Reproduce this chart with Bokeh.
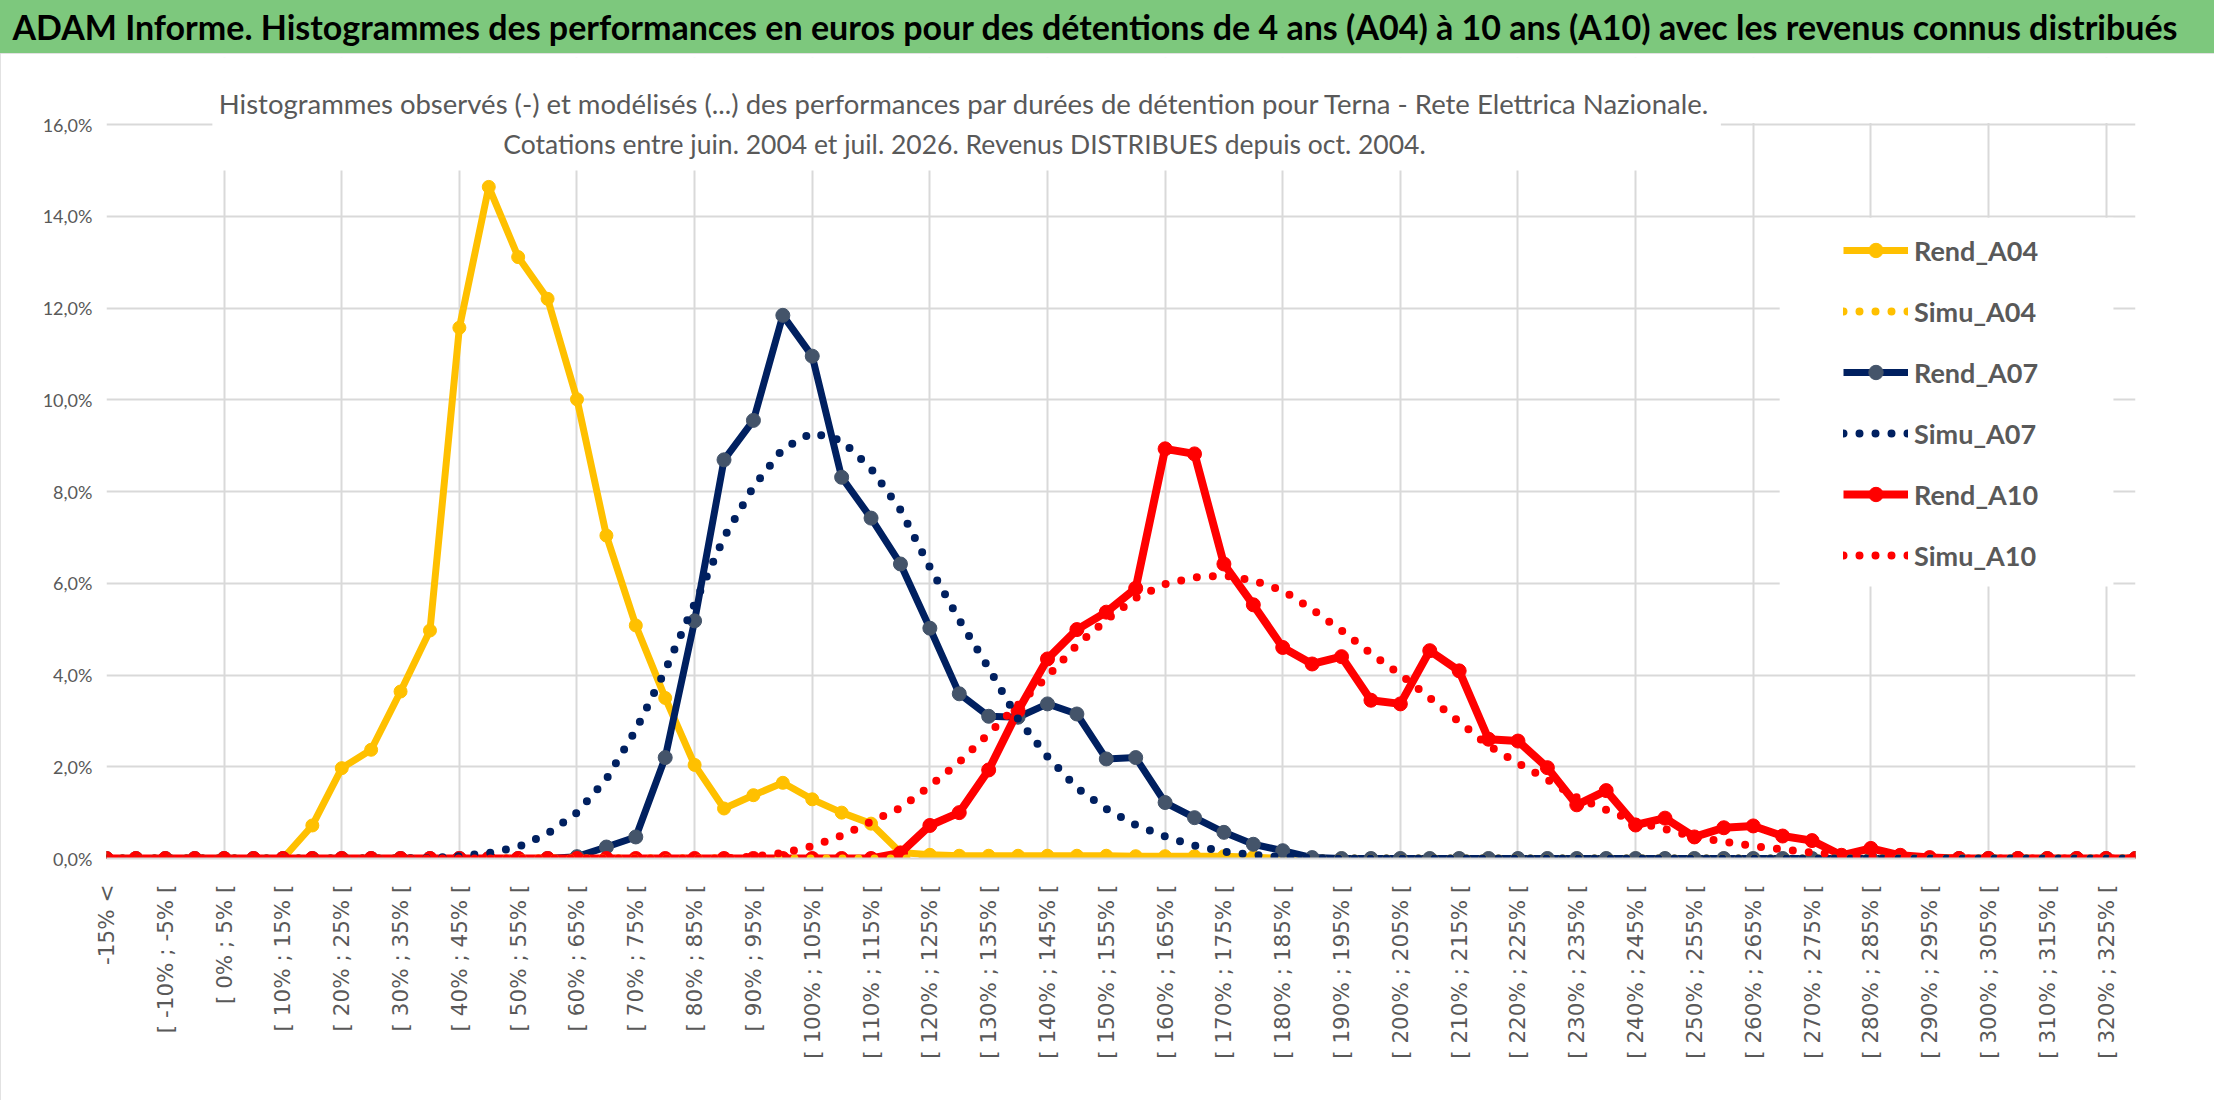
import math
from bokeh.plotting import figure
from bokeh.layouts import column
from bokeh.models import Range1d, FixedTicker, Label, BoxAnnotation, Legend, LegendItem, Div
from bokeh.embed import file_html
from bokeh.resources import INLINE

# ---------------- data ----------------
categories = ["-15% <"] + [f"[ {lo}% ; {lo + 5}% [" for lo in range(-15, 330, 5)]

rend_a04 = [0, 0, 0, 0, 0, 0, 0, 0.72, 1.97, 2.37,
            3.64, 4.97, 11.57, 14.64, 13.11, 12.2, 10.01, 7.04, 5.08, 3.5,
            2.04, 1.09, 1.38, 1.65, 1.29, 1.0, 0.76, 0.13, 0.08, 0.06,
            0.06, 0.06, 0.06, 0.06, 0.06, 0.05, 0.05, 0.05, 0.05, 0.03,
            0, 0, 0, 0, 0, 0, 0, 0, 0, 0,
            0, 0, 0, 0, 0, 0, 0, 0, 0, 0,
            0, 0, 0, 0, 0, 0, 0, 0, 0, 0]

simu_a04 = [0] * 70

rend_a07 = [0, 0, 0, 0, 0, 0, 0, 0, 0, 0,
            0, 0, 0, 0, 0, 0, 0.04, 0.25, 0.47, 2.2,
            5.18, 8.69, 9.55, 11.84, 10.95, 8.31, 7.42, 6.42, 5.02, 3.59,
            3.1, 3.08, 3.37, 3.15, 2.17, 2.2, 1.22, 0.89, 0.57, 0.31,
            0.17, 0.02, 0, 0, 0, 0, 0, 0, 0, 0,
            0, 0, 0, 0, 0, 0, 0, 0, 0, 0,
            0, 0, 0, 0, 0, 0, 0, 0, 0, 0]

simu_a07 = [0, 0, 0, 0, 0, 0, 0, 0, 0, 0,
            0, 0.01, 0.05, 0.12, 0.25, 0.54, 1.0, 1.73, 2.8, 4.1,
            5.55, 7.0, 8.1, 8.93, 9.28, 9.11, 8.5, 7.6, 6.35, 5.2,
            4.15, 3.04, 2.22, 1.54, 1.08, 0.73, 0.48, 0.28, 0.15, 0.08,
            0.03, 0.01, 0, 0, 0, 0, 0, 0, 0, 0,
            0, 0, 0, 0, 0, 0, 0, 0, 0, 0,
            0, 0, 0, 0, 0, 0, 0, 0, 0, 0]

rend_a10 = [0, 0, 0, 0, 0, 0, 0, 0, 0, 0,
            0, 0, 0, 0, 0, 0, 0, 0, 0, 0,
            0, 0, 0, 0, 0, 0, 0, 0.12, 0.72, 1.0,
            1.93, 3.22, 4.35, 4.99, 5.37, 5.89, 8.93, 8.82, 6.42, 5.53,
            4.6, 4.24, 4.4, 3.45, 3.37, 4.53, 4.09, 2.6, 2.56, 1.98,
            1.17, 1.48, 0.73, 0.88, 0.47, 0.67, 0.71, 0.49, 0.39, 0.07,
            0.22, 0.07, 0.02, 0, 0, 0, 0, 0, 0, 0]

simu_a10 = [0, 0, 0, 0, 0, 0, 0, 0, 0, 0,
            0, 0, 0, 0, 0, 0, 0, 0, 0, 0,
            0, 0, 0.04, 0.12, 0.27, 0.5, 0.8, 1.1, 1.58, 2.1,
            2.72, 3.35, 3.97, 4.65, 5.2, 5.68, 5.98, 6.13, 6.17, 6.06,
            5.84, 5.43, 4.97, 4.47, 4.01, 3.5, 2.98, 2.46, 2.08, 1.72,
            1.33, 1.06, 0.8, 0.64, 0.47, 0.37, 0.27, 0.2, 0.13, 0.08,
            0.04, 0.02, 0, 0, 0, 0, 0, 0, 0, 0]

y_ticks = [0, 2, 4, 6, 8, 10, 12, 14, 16]
y_tick_labels = ["0,0%", "2,0%", "4,0%", "6,0%", "8,0%", "10,0%", "12,0%", "14,0%", "16,0%"]

title_text = ("ADAM Informe. Histogrammes des performances en euros pour des détentions "
              "de 4 ans (A04) à 10 ans (A10) avec les revenus connus distribués")
subtitle_1 = ("Histogrammes observés (-) et modélisés (...) des performances par durées "
              "de détention pour Terna - Rete Elettrica Nazionale.")
subtitle_2 = "Cotations entre juin. 2004 et juil. 2026. Revenus DISTRIBUES depuis oct. 2004."

x = list(range(len(categories)))

GRID = "#D9D9D9"
TXT = "#595959"
YEL, NAVY, NAVY_M, RED = "#FFC000", "#002060", "#44546A", "#FF0000"
W = 2214

# ---------------- title bar ----------------
top = Div(text=title_text, width=W, height=53, margin=0,
          styles={"background-color": "#7DC87D", "font-family": "Lato",
                  "font-weight": "bold", "font-size": "34px", "color": "black",
                  "text-align": "center", "line-height": "53px", "white-space": "nowrap",
                  "text-indent": "-24px", "overflow": "hidden"})

# ---------------- main chart ----------------
YMAX = 16 * 801 / 734
p = figure(width=W, height=1047, x_range=Range1d(0, 69), y_range=Range1d(0, YMAX),
           output_backend="svg", toolbar_location=None, margin=0,
           min_border_left=106, min_border_right=79, min_border_top=4, min_border_bottom=242,
           styles={"outline": "2px solid #D9D9D9", "outline-offset": "-2px"})
p.outline_line_color = None
p.background_fill_color = "white"
p.border_fill_color = "white"

xa = p.xaxis[0]
xa.ticker = FixedTicker(ticks=list(range(0, 70, 2)))
xa.major_label_overrides = {i: categories[i] for i in range(0, 70, 2)}
xa.major_label_orientation = math.pi / 2
xa.major_label_text_font = "DejaVu Sans"
xa.major_label_text_font_size = "21.5px"
xa.major_label_text_color = TXT
xa.major_label_standoff = 26
xa.major_tick_out = 0
xa.major_tick_in = 0
xa.major_tick_line_color = None
xa.minor_tick_line_color = None
xa.axis_line_color = GRID
xa.axis_line_width = 2

ya = p.yaxis[0]
ya.ticker = FixedTicker(ticks=y_ticks)
ya.major_label_overrides = {t: l for t, l in zip(y_ticks, y_tick_labels)}
ya.major_label_text_font = "Lato"
ya.major_label_text_font_size = "18px"
ya.major_label_text_color = TXT
ya.major_label_standoff = 14
ya.major_tick_out = 0
ya.major_tick_in = 0
ya.major_tick_line_color = None
ya.minor_tick_line_color = None
ya.axis_line_color = None

p.xgrid.ticker = FixedTicker(ticks=list(range(0, 70, 4)))
p.ygrid.ticker = FixedTicker(ticks=y_ticks)
for g in (p.xgrid[0], p.ygrid[0]):
    g.grid_line_color = GRID
    g.grid_line_width = 2


def rend(vals, color, mcolor, lw, ms):
    l = p.line(x, vals, line_color=color, line_width=lw, line_join="round")
    s = p.scatter(x, vals, size=ms, fill_color=mcolor, line_color=mcolor)
    return [l, s]


def simu(vals, color):
    return [p.line(x, vals, line_color=color, line_width=8, line_dash="0 16",
                   line_cap="round")]


r04 = rend(rend_a04, YEL, YEL, 7, 13)
r07 = rend(rend_a07, NAVY, NAVY_M, 7, 14)
r10 = rend(rend_a10, RED, RED, 8, 14)
s04 = simu(simu_a04, YEL)
s07 = simu(simu_a07, NAVY)
s10 = simu(simu_a10, RED)

# white area above the plot area, subtitle box and legend box
p.add_layout(BoxAnnotation(left=-1, right=70, bottom=16.03, top=YMAX + 1,
                           fill_color="white", fill_alpha=1, line_color=None))
p.add_layout(BoxAnnotation(left=3.6, right=54.9, bottom=15.0, top=16.5,
                           fill_color="white", fill_alpha=1, line_color=None))
p.add_layout(BoxAnnotation(left=56.9, right=68.25, bottom=5.93, top=13.97,
                           fill_color="white", fill_alpha=1, line_color=None))

legend = Legend(items=[LegendItem(label="Rend_A04", renderers=r04),
                       LegendItem(label="Simu_A04", renderers=s04),
                       LegendItem(label="Rend_A07", renderers=r07),
                       LegendItem(label="Simu_A07", renderers=s07),
                       LegendItem(label="Rend_A10", renderers=r10),
                       LegendItem(label="Simu_A10", renderers=s10)],
                location=(1737, 285), margin=0, padding=12, spacing=25,
                glyph_width=65, glyph_height=36, label_height=36, label_standoff=6,
                label_text_font="Lato", label_text_font_style="bold",
                label_text_font_size="27px", label_text_color=TXT,
                border_line_color=None, background_fill_color="white",
                background_fill_alpha=1)
p.add_layout(legend)

p.add_layout(Label(x=858, y=755, x_units="screen", y_units="screen", text=subtitle_1,
                   text_align="center", text_baseline="middle", text_font="Lato",
                   text_font_size="27.5px", text_color=TXT))
p.add_layout(Label(x=858, y=715, x_units="screen", y_units="screen", text=subtitle_2,
                   text_align="center", text_baseline="middle", text_font="Lato",
                   text_font_size="26.5px", text_color=TXT))

layout = column(top, p, spacing=0)
open("out.html", "w").write(file_html(layout, INLINE))
